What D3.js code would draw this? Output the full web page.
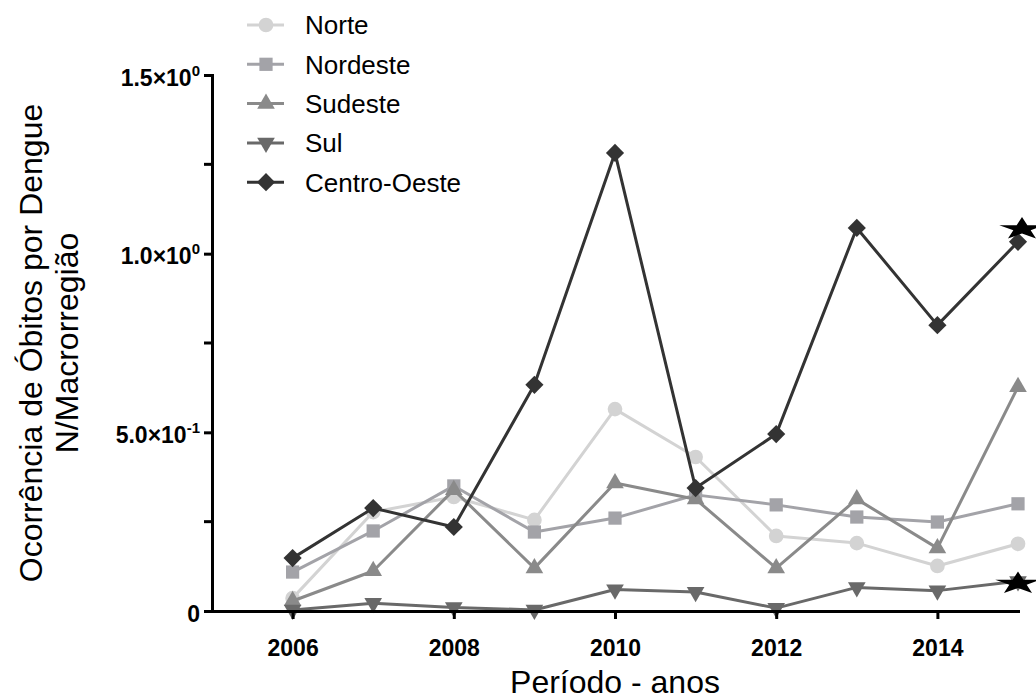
<!DOCTYPE html>
<html>
<head>
<meta charset="utf-8">
<script src="https://cdn.jsdelivr.net/npm/d3@7"></script>
<style>
  html, body { margin: 0; padding: 0; background: #fff; }
  svg { display: block; font-family: "Liberation Sans", Arial, Helvetica, sans-serif; }
</style>
</head>
<body>
<svg id="chart" width="1036" height="699"></svg>
<script>
// Years on the x axis
const years = [2006, 2007, 2008, 2009, 2010, 2011, 2012, 2013, 2014, 2015];

// Deaths from dengue per macro-region
const norte       = [0.036, 0.277, 0.319, 0.255, 0.565, 0.431, 0.210, 0.190, 0.126, 0.188];
const nordeste    = [0.109, 0.224, 0.350, 0.221, 0.260, 0.325, 0.297, 0.263, 0.249, 0.300];
const sudeste     = [0.028, 0.112, 0.339, 0.120, 0.358, 0.313, 0.120, 0.313, 0.176, 0.627];
const sul         = [0.003, 0.022, 0.010, 0.003, 0.060, 0.053, 0.008, 0.066, 0.057, 0.083];
const centroOeste = [0.148, 0.288, 0.235, 0.633, 1.282, 0.344, 0.495, 1.072, 0.800, 1.033];

const seriesNames = ["Norte", "Nordeste", "Sudeste", "Sul", "Centro-Oeste"];
const seriesValues = [norte, nordeste, sudeste, sul, centroOeste];

// Axis ticks
const xTicks = [2006, 2008, 2010, 2012, 2014];
const yTicks = [0, 0.5, 1.0, 1.5];
const yTickMantissa = ["0", "5.0×10", "1.0×10", "1.5×10"];
const yTickExponent = ["", "-1", "0", "0"];
const yMinorTicks = [0.25, 0.75, 1.25];

// Significance stars: series and year they mark
const starSeries = ["Centro-Oeste", "Sul"];
const starYears = [2015, 2015];

// ---- styling ----
const colors = {
  "Norte": "#d3d3d3",
  "Nordeste": "#a3a3a8",
  "Sudeste": "#8a8a8a",
  "Sul": "#696969",
  "Centro-Oeste": "#333333"
};
const shapes = {
  "Norte":        { type: d3.symbolCircle,   size: 170, rotate: 0 },
  "Nordeste":     { type: d3.symbolSquare,   size: 175, rotate: 0 },
  "Sudeste":      { type: d3.symbolTriangle, size: 135, rotate: 0 },
  "Sul":          { type: d3.symbolTriangle, size: 135, rotate: 180 },
  "Centro-Oeste": { type: d3.symbolSquare,   size: 165, rotate: 45 }
};

const svg = d3.select("#chart");

const x = d3.scaleLinear().domain([2005, 2015]).range([212, 1018]);
const y = d3.scaleLinear().domain([0, 1.5]).range([611, 75]);

// ---- series ----
const line = d3.line()
  .x((d, i) => x(years[i]))
  .y(d => y(d));

seriesNames.forEach((name, si) => {
  const vals = seriesValues[si];
  const g = svg.append("g").attr("class", "series");
  g.append("path")
    .datum(vals)
    .attr("fill", "none")
    .attr("stroke", colors[name])
    .attr("stroke-width", 3)
    .attr("stroke-linejoin", "round")
    .attr("d", line);
  const sh = shapes[name];
  g.selectAll("path.mark")
    .data(vals)
    .join("path")
    .attr("class", "mark")
    .attr("fill", colors[name])
    .attr("d", d3.symbol().type(sh.type).size(sh.size))
    .attr("transform", (d, i) => `translate(${x(years[i])},${y(d)}) rotate(${sh.rotate})`);
});

// ---- significance stars ----
const starOffset = { "Centro-Oeste": -15, "Sul": 0 };
starSeries.forEach((name, k) => {
  const si = seriesNames.indexOf(name);
  const yi = years.indexOf(starYears[k]);
  const v = seriesValues[si][yi];
  svg.append("path")
    .attr("fill", "#000")
    .attr("d", d3.symbol().type(d3.symbolStar).size(160)())
    .attr("transform", `translate(${x(starYears[k]) + (name === "Sul" ? 0 : 4)},${y(v) + starOffset[name] + 2}) scale(2,1)`);
});

// ---- axes ----
const xAxis = svg.append("g")
  .attr("transform", `translate(0,${y(0)})`)
  .call(d3.axisBottom(x).tickValues(xTicks).tickSize(8).tickSizeOuter(0).tickFormat(d3.format("d")));
xAxis.select(".domain").attr("stroke", "#000").attr("stroke-width", 3).attr("stroke-linecap", "square");
xAxis.selectAll(".tick line").attr("stroke", "#000").attr("stroke-width", 3);
xAxis.selectAll(".tick text")
  .attr("y", 45)
  .attr("dy", null)
  .attr("fill", "#000")
  .style("font-size", "23px")
  .style("font-weight", "bold")
  .style("font-family", "'Liberation Sans', Arial, sans-serif");

const yAxis = svg.append("g")
  .attr("transform", `translate(${x(2005)},0)`)
  .call(d3.axisLeft(y).tickValues(yTicks).tickSize(8).tickSizeOuter(0).tickFormat(""));
yAxis.select(".domain").attr("stroke", "#000").attr("stroke-width", 3).attr("stroke-linecap", "square");
yAxis.selectAll(".tick line").attr("stroke", "#000").attr("stroke-width", 3);

// minor ticks
yAxis.selectAll("line.minor")
  .data(yMinorTicks)
  .join("line")
  .attr("class", "minor")
  .attr("x1", -8).attr("x2", 0)
  .attr("y1", d => y(d)).attr("y2", d => y(d))
  .attr("stroke", "#000").attr("stroke-width", 3);

// tick labels with superscript exponents
yAxis.selectAll("g.tick").each(function (d) {
  const i = yTicks.indexOf(d);
  const t = d3.select(this).select("text")
    .text(null)
    .attr("x", -12)
    .attr("dy", null)
    .attr("y", 10)
    .attr("text-anchor", "end")
    .attr("fill", "#000")
    .style("font-size", "23px")
    .style("font-weight", "bold")
    .style("font-family", "'Liberation Sans', Arial, sans-serif");
  t.append("tspan").text(yTickMantissa[i]);
  if (yTickExponent[i]) {
    t.append("tspan")
      .attr("dy", -10)
      .style("font-size", "15px")
      .text(yTickExponent[i]);
  }
});

// ---- axis titles ----
svg.append("text")
  .attr("x", (x(2005) + x(2015)) / 2)
  .attr("y", 693)
  .attr("text-anchor", "middle")
  .style("font-size", "32px")
  .text("Período - anos");

const yTitle = svg.append("text")
  .attr("transform", `translate(0,${(y(0) + y(1.5)) / 2}) rotate(-90)`)
  .attr("text-anchor", "middle")
  .style("font-size", "32px");
yTitle.append("tspan").attr("x", 0).attr("y", 42).text("Ocorrência de Óbitos por Dengue");
yTitle.append("tspan").attr("x", 0).attr("y", 78).text("N/Macrorregião");

// ---- legend ----
const legend = svg.append("g").attr("class", "legend");
seriesNames.forEach((name, i) => {
  const cy = 25 + i * 39.3;
  const sh = shapes[name];
  legend.append("line")
    .attr("x1", 247).attr("x2", 284)
    .attr("y1", cy).attr("y2", cy)
    .attr("stroke", colors[name]).attr("stroke-width", 3);
  legend.append("path")
    .attr("fill", colors[name])
    .attr("d", d3.symbol().type(sh.type).size(sh.size)())
    .attr("transform", `translate(266,${cy}) rotate(${sh.rotate})`);
  legend.append("text")
    .attr("x", 305)
    .attr("y", cy)
    .attr("dy", "0.36em")
    .style("font-size", "26px")
    .text(name);
});
</script>
</body>
</html>
